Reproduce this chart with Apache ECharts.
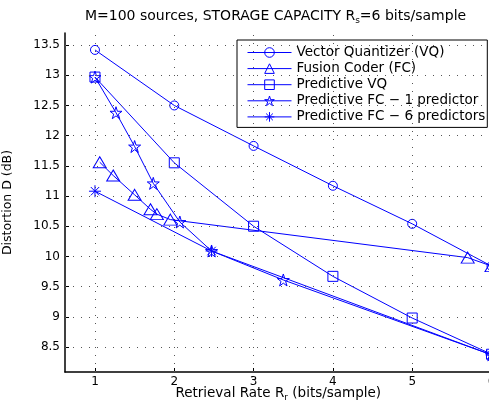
<!DOCTYPE html>
<html>
<head>
<meta charset="utf-8">
<script src="https://cdn.jsdelivr.net/npm/echarts@6/dist/echarts.min.js"></script>
<style>
html,body{margin:0;padding:0;background:#fff;}
#chart{width:489px;height:402px;}
</style>
</head>
<body>
<div id="chart"></div>
<script>
// ---- data ----
const xTicks = [1, 2, 3, 4, 5, 6];
const yTicks = [8.5, 9, 9.5, 10, 10.5, 11, 11.5, 12, 12.5, 13, 13.5];

const seriesNames = [
  'Vector Quantizer (VQ)',
  'Fusion Coder (FC)',
  'Predictive VQ',
  'Predictive FC \u2212 1 predictor',
  'Predictive FC \u2212 6 predictors'
];

const vqX = [1, 2, 3, 4, 5, 6];
const vqY = [13.42, 12.5, 11.83, 11.17, 10.54, 9.84];

const fcX = [1.06, 1.23, 1.5, 1.7, 1.78, 1.95, 5.7, 6];
const fcY = [11.56, 11.34, 11.02, 10.78, 10.7, 10.61, 9.98, 9.84];

const pvqX = [1, 2, 3, 4, 5, 6];
const pvqY = [12.97, 11.55, 10.5, 9.67, 8.98, 8.38];

const fc1X = [1, 1.265, 1.5, 1.735, 2.07, 2.47, 3.375, 6];
const fc1Y = [12.97, 12.38, 11.82, 11.21, 10.57, 10.09, 9.61, 8.37];

const fc6X = [1, 2.47, 6];
const fc6Y = [11.08, 10.09, 8.37];

// ---- styling ----
const BLUE = '#0000ff';
const FONT = '"DejaVu Sans", "Liberation Sans", Arial, sans-serif';
const STAR = 'path://M10 0L12.245 6.91L19.511 6.91L13.633 11.18L15.878 18.09L10 13.82L4.122 18.09L6.367 11.18L0.489 6.91L7.755 6.91Z';
const ASTER = 'path://M0 5L10 5M5 0L5 10M1.5 1.5L8.5 8.5M8.5 1.5L1.5 8.5';
const SUB = { fontFamily: FONT, fontSize: 9, color: '#000', padding: [9, 0, 0, 0] };

function zip(xs, ys) { return xs.map((x, i) => [x, ys[i]]); }

function mk(name, xs, ys, symbol, size) {
  return {
    name: name,
    type: 'line',
    data: zip(xs, ys),
    symbol: symbol,
    symbolSize: size,
    showAllSymbol: true,
    clip: false,
    lineStyle: { color: BLUE, width: 1 },
    itemStyle: { color: 'rgba(0,0,0,0)', borderColor: BLUE, borderWidth: 1 },
    emphasis: { disabled: true },
    animation: false,
    z: 3
  };
}

const gridStyle = { color: '#555', width: 1, type: [1, 7] };

// gridlines drawn at the tick values through the axes
const gridSeries = {
  type: 'line',
  data: [],
  silent: true,
  z: 1,
  markLine: {
    silent: true,
    symbol: ['none', 'none'],
    label: { show: false },
    lineStyle: gridStyle,
    emphasis: { disabled: true },
    animation: false,
    data: xTicks.map(v => ({ xAxis: v })).concat(yTicks.map(v => ({ yAxis: v })))
  }
};

const chart = echarts.init(document.getElementById('chart'), null, { renderer: 'canvas' });

chart.setOption({
  backgroundColor: '#fff',
  animation: false,
  title: {
    text: 'M=100 sources, STORAGE CAPACITY R{sub|s}=6 bits/sample',
    left: 85,
    top: 7,
    padding: 0,
    textStyle: {
      fontFamily: FONT, fontSize: 14, fontWeight: 'normal', color: '#000',
      rich: { sub: SUB }
    }
  },
  legend: {
    data: seriesNames,
    orient: 'vertical',
    left: 237,
    top: 40,
    padding: [5, 2, 3, 10],
    itemGap: 1.1,
    itemWidth: 44,
    itemHeight: 12,
    borderColor: '#000',
    borderWidth: 1,
    backgroundColor: '#fff',
    selectedMode: false,
    itemStyle: { color: 'rgba(0,0,0,0)', borderWidth: 1 },
    lineStyle: { width: 1 },
    textStyle: { fontFamily: FONT, fontSize: 13.5, color: '#000', lineHeight: 15 }
  },
  grid: { left: 65, top: 33, right: -2.5, bottom: 30, containLabel: false, outerBoundsMode: 'none' },
  xAxis: {
    type: 'value',
    min: 0.622,
    max: 6,
    name: 'Retrieval Rate R{sub|r} (bits/sample)',
    nameLocation: 'middle',
    nameGap: 12,
    nameMoveOverlap: false,
    nameTextStyle: {
      fontFamily: FONT, fontSize: 13.5, color: '#000',
      rich: { sub: SUB }
    },
    axisLine: { show: true, onZero: false, lineStyle: { color: '#000', width: 1.5 } },
    axisTick: { show: true, inside: true, length: 4, customValues: xTicks, lineStyle: { color: '#000' } },
    axisLabel: { customValues: xTicks, fontFamily: FONT, fontSize: 12, color: '#000', margin: 4 },
    splitLine: { show: false }
  },
  yAxis: {
    type: 'value',
    min: 8.086,
    max: 13.7,
    name: 'Distortion D (dB)',
    nameLocation: 'middle',
    nameGap: 51,
    nameRotate: 90,
    nameMoveOverlap: false,
    nameTextStyle: { fontFamily: FONT, fontSize: 12.5, color: '#000' },
    axisLine: { show: true, onZero: false, lineStyle: { color: '#000', width: 1.5 } },
    axisTick: { show: true, inside: true, length: 4, customValues: yTicks, lineStyle: { color: '#000' } },
    axisLabel: { customValues: yTicks, fontFamily: FONT, fontSize: 12, color: '#000', margin: 5 },
    splitLine: { show: false }
  },
  series: [
    gridSeries,
    mk(seriesNames[0], vqX, vqY, 'circle', 9),
    mk(seriesNames[1], fcX, fcY, 'triangle', [13, 11]),
    mk(seriesNames[2], pvqX, pvqY, 'rect', 10),
    mk(seriesNames[3], fc1X, fc1Y, STAR, 12),
    mk(seriesNames[4], fc6X, fc6Y, ASTER, 12)
  ]
});
</script>
</body>
</html>
